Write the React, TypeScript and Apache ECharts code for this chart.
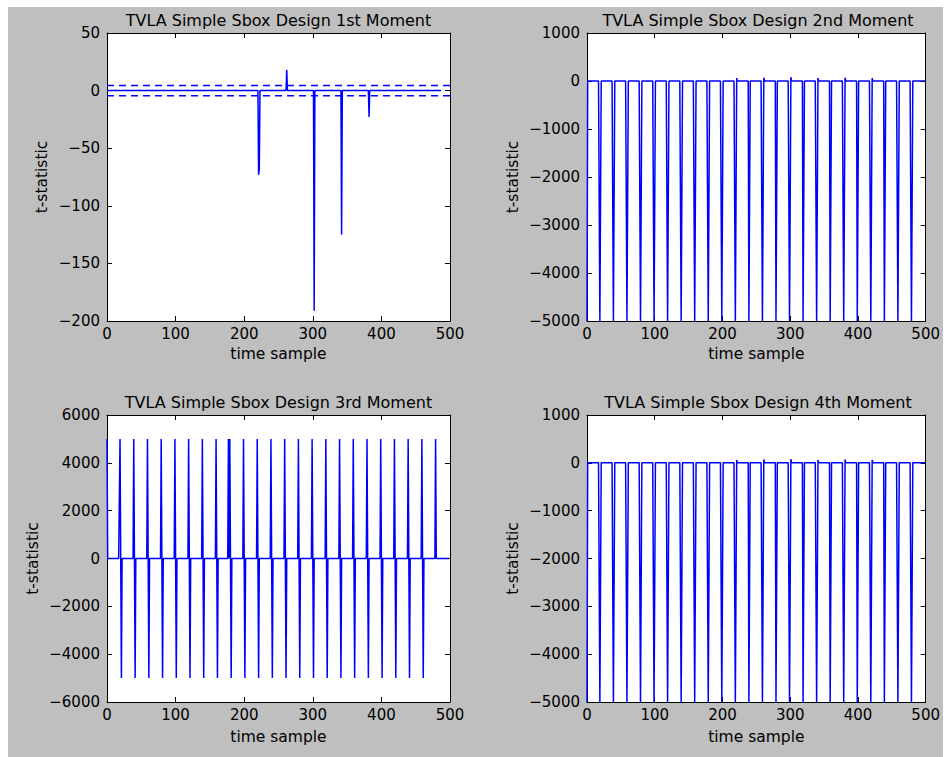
import React, { useEffect, useRef } from "react";
import * as echarts from "echarts";

// ---- Data ----
const titles = [
  "TVLA Simple Sbox Design 1st Moment",
  "TVLA Simple Sbox Design 2nd Moment",
  "TVLA Simple Sbox Design 3rd Moment",
  "TVLA Simple Sbox Design 4th Moment",
];
const xLabel = "time sample";
const yLabel = "t-statistic";

// 1st moment
const m1Length = 488;
const m1SpikeIdx = [221, 222, 262, 302, 342, 382];
const m1SpikeVal = [-73, -68, 18, -191, -125, -23];
const m1Threshold = [4.5, -4.5];

// 2nd moment
const m2Length = 500;
const m2LowIdx = [0, 19, 20, 39, 40, 59, 60, 79, 80, 99, 100, 119, 120, 139, 140, 159, 160, 179, 180, 199, 200, 219, 220, 239, 240, 259, 260, 279, 280, 299, 300, 319, 320, 339, 340, 359, 360, 379, 380, 399, 400, 419, 420, 439, 440, 459, 460, 479, 480];
const m2LowVal = -5000;
const m2BlipIdx = [221, 261, 301, 341, 381, 421];
const m2BlipVal = [60, 70, 80, 60, 70, 60];

// 3rd moment
const m3Length = 499;
const m3UpIdx = [0, 19, 39, 59, 79, 99, 119, 139, 159, 177, 179, 199, 219, 239, 259, 279, 299, 319, 339, 359, 379, 399, 419, 439, 459, 479];
const m3UpVal = 5000;
const m3DownIdx = [21, 41, 61, 81, 101, 121, 141, 161, 181, 201, 221, 241, 261, 281, 301, 321, 341, 361, 381, 401, 421, 441, 461];
const m3DownVal = -5000;

// 4th moment
const m4Length = 500;
const m4LowIdx = [0, 19, 20, 39, 40, 59, 60, 79, 80, 99, 100, 119, 120, 139, 140, 159, 160, 179, 180, 199, 200, 219, 220, 239, 240, 259, 260, 279, 280, 299, 300, 319, 320, 339, 340, 359, 360, 379, 380, 399, 400, 419, 420, 439, 440, 459, 460, 479, 480];
const m4LowVal = -5000;
const m4BlipIdx = [221, 261, 301, 341, 381, 421];
const m4BlipVal = [60, 70, 80, 60, 70, 60];

// axis ranges
const xRange = { min: 0, max: 500, interval: 100 };
const yRanges = [
  { min: -200, max: 50, interval: 50 },
  { min: -5000, max: 1000, interval: 1000 },
  { min: -6000, max: 6000, interval: 2000 },
  { min: -5000, max: 1000, interval: 1000 },
];

function build(length: number, idx: number[], vals: number[] | number): number[][] {
  const arr: number[] = new Array(length).fill(0);
  idx.forEach((i, k) => {
    arr[i] = Array.isArray(vals) ? vals[k] : vals;
  });
  return arr.map((v, i) => [i, v]);
}

function build2(length: number, a: number[], av: number[] | number, b: number[], bv: number[] | number) {
  const arr: number[] = new Array(length).fill(0);
  a.forEach((i, k) => (arr[i] = Array.isArray(av) ? av[k] : av));
  b.forEach((i, k) => (arr[i] = Array.isArray(bv) ? bv[k] : bv));
  return arr.map((v, i) => [i, v]);
}

const BLUE = "#0000ff";
const FONT = "DejaVu Sans";
const fmt = (v: number) => String(v).replace("-", "\u2212");

export default function App() {
  const ref = useRef<HTMLDivElement>(null);
  useEffect(() => {
    if (!ref.current) return;
    const chart = echarts.init(ref.current, undefined, { renderer: "svg" });

    const grids = [
      { left: 99, top: 26, width: 343, height: 288 },
      { left: 579, top: 26, width: 342, height: 288 },
      { left: 99, top: 408, width: 343, height: 287 },
      { left: 579, top: 408, width: 342, height: 287 },
    ];
    const yNameGaps = [57, 66, 66, 66];
    const xNameGaps = [25, 25, 27, 27];

    const tickStyle = { show: true, inside: true, length: 5, lineStyle: { color: "#000", width: 1 } };
    const lineStyleAxis = { show: true, onZero: false, lineStyle: { color: "#000", width: 1 } };

    const xAxes: any[] = [];
    const yAxes: any[] = [];
    grids.forEach((_, i) => {
      xAxes.push({
        type: "value",
        gridIndex: i,
        position: "bottom",
        ...xRange,
        axisLine: lineStyleAxis,
        axisTick: tickStyle,
        splitLine: { show: false },
        axisLabel: { color: "#000", fontSize: 15, fontFamily: FONT, margin: 5, formatter: fmt },
        name: xLabel,
        nameLocation: "middle",
        nameGap: xNameGaps[i],
        nameTextStyle: { color: "#000", fontSize: 15.5, fontFamily: FONT },
      });
      yAxes.push({
        type: "value",
        gridIndex: i,
        position: "left",
        ...yRanges[i],
        axisLine: lineStyleAxis,
        axisTick: tickStyle,
        splitLine: { show: false },
        axisLabel: { color: "#000", fontSize: 15, fontFamily: FONT, margin: 7, formatter: fmt },
        name: yLabel,
        nameLocation: "middle",
        nameGap: yNameGaps[i],
        nameRotate: 90,
        nameTextStyle: { color: "#000", fontSize: 15.5, fontFamily: FONT },
      });
    });
    grids.forEach((_, i) => {
      xAxes.push({
        type: "value",
        gridIndex: i,
        position: "top",
        ...xRange,
        axisLine: lineStyleAxis,
        axisTick: tickStyle,
        splitLine: { show: false },
        axisLabel: { show: false },
      });
      yAxes.push({
        type: "value",
        gridIndex: i,
        position: "right",
        ...yRanges[i],
        axisLine: lineStyleAxis,
        axisTick: tickStyle,
        splitLine: { show: false },
        axisLabel: { show: false },
      });
    });

    const lineSeries = (data: number[][], i: number, extra: any = {}) => ({
      type: "line",
      xAxisIndex: i,
      yAxisIndex: i,
      data,
      showSymbol: false,
      symbol: "none",
      clip: true,
      silent: true,
      lineStyle: { color: BLUE, width: 1.5, ...(extra.lineStyle || {}) },
    });

    const series: any[] = [
      lineSeries(build(m1Length, m1SpikeIdx, m1SpikeVal), 0),
      ...m1Threshold.map((t) =>
        lineSeries(
          [
            [xRange.min, t],
            [xRange.max, t],
          ],
          0,
          { lineStyle: { type: [7, 5] } }
        )
      ),
      lineSeries(build2(m2Length, m2LowIdx, m2LowVal, m2BlipIdx, m2BlipVal), 1),
      lineSeries(build2(m3Length, m3UpIdx, m3UpVal, m3DownIdx, m3DownVal), 2),
      lineSeries(build2(m4Length, m4LowIdx, m4LowVal, m4BlipIdx, m4BlipVal), 3),
    ];

    const titleY = [13, 13, 395, 395];
    const graphic = grids.map((g, i) => ({
      type: "text",
      x: g.left + g.width / 2,
      y: titleY[i],
      silent: true,
      style: {
        text: titles[i],
        fill: "#000",
        fontSize: 16,
        fontFamily: FONT,
        textAlign: "center",
        textVerticalAlign: "middle",
      },
    }));

    chart.setOption({
      animation: false,
      backgroundColor: "#bfbfbf",
      textStyle: { fontFamily: FONT },
      grid: grids.map((g) => ({ ...g, show: true, backgroundColor: "#ffffff", borderWidth: 0 })),
      xAxis: xAxes,
      yAxis: yAxes,
      series,
      graphic,
    });
    return () => chart.dispose();
  }, []);

  return (
    <div
      ref={ref}
      style={{ position: "absolute", left: 8, top: 7, width: 935, height: 750 }}
    />
  );
}
